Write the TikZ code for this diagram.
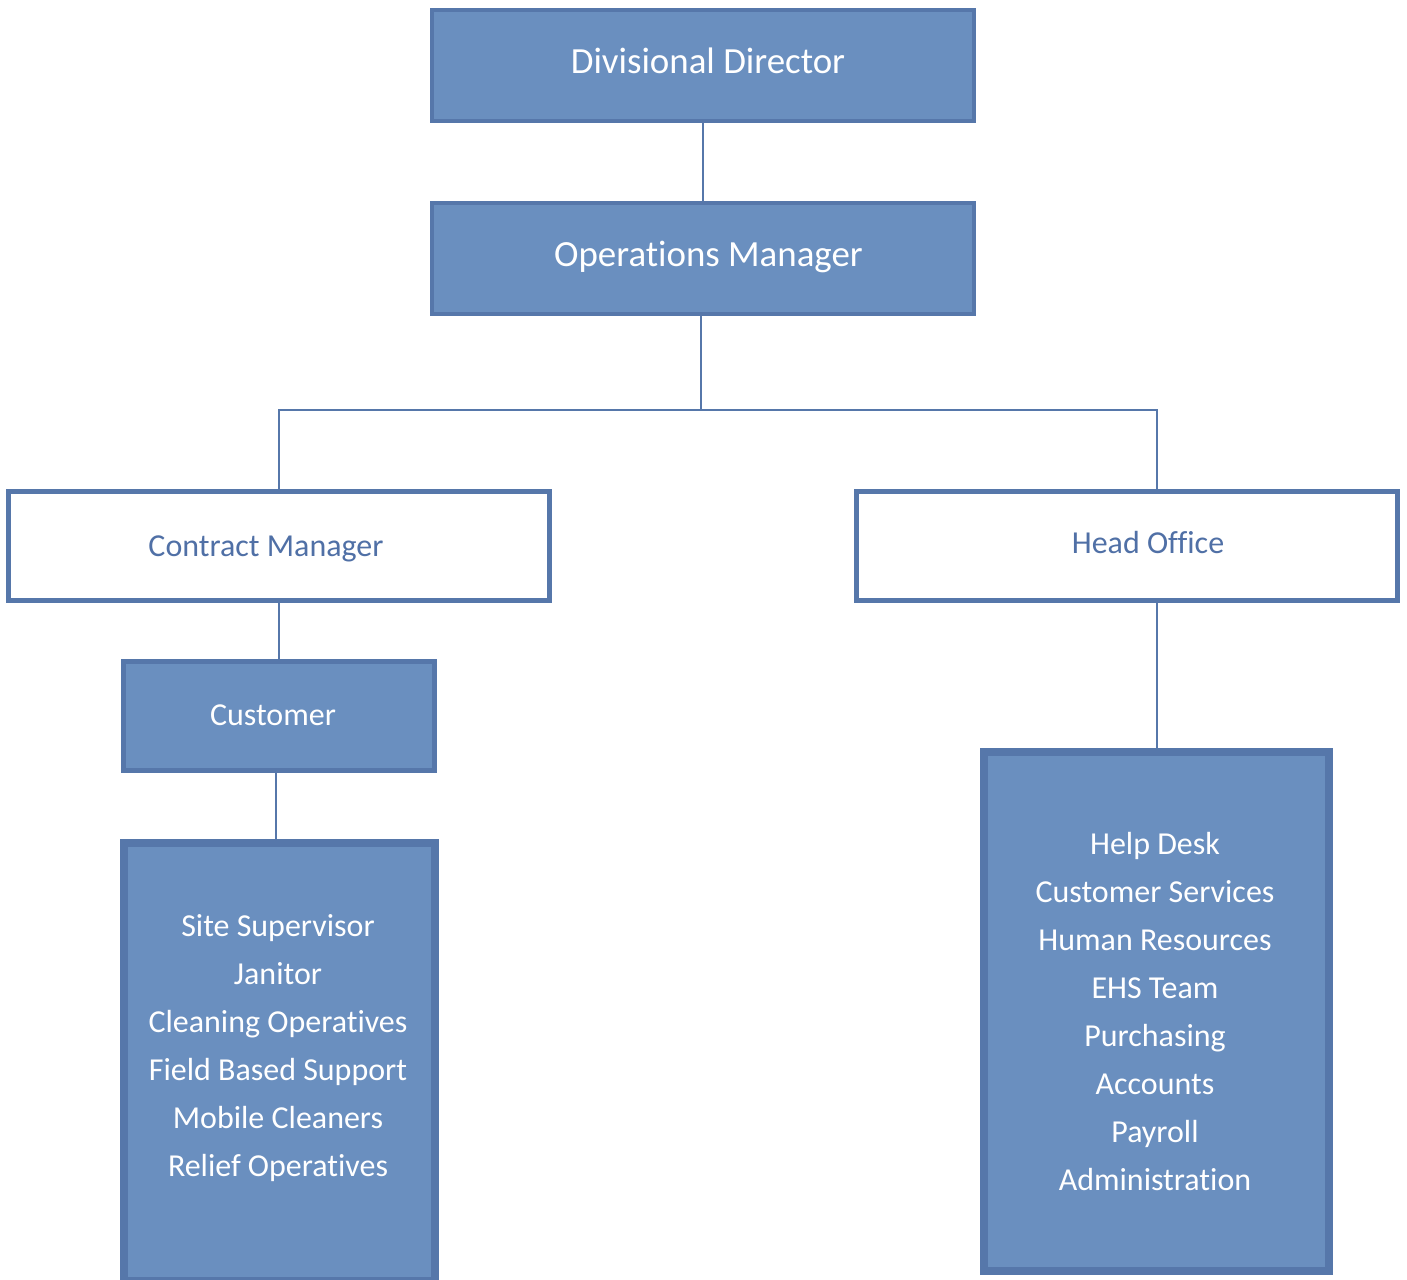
\documentclass[tikz,border=0pt]{standalone}
\usepackage{fontspec}
\setmainfont[Ligatures=NoCommon]{Carlito}
\definecolor{boxfill}{RGB}{106,143,191}
\definecolor{boxedge}{RGB}{86,119,170}
\definecolor{titleblue}{RGB}{80,112,166}
\begin{document}
\begin{tikzpicture}[x=0.02cm,y=-0.02cm,
  filledbox/.style={rectangle, draw=boxedge, fill=boxfill, inner sep=0pt, line width=#1},
  plainbox/.style={rectangle, draw=boxedge, fill=white, inner sep=0pt, line width=#1},
  bigtext/.style={anchor=base, text=white, font=\fontsize{21}{25}\selectfont},
  whitetext/.style={anchor=base, text=white, align=center, font=\fontsize{18.2}{27.3}\selectfont},
  bluetext/.style={anchor=base, text=titleblue, font=\fontsize{18.2}{27.3}\selectfont},
  link/.style={draw=boxedge, line width=1.14pt}]
\useasboundingbox (0,0) rectangle (1407,1280);

% top of the chart
\node[filledbox=2.28pt, minimum width=10.84cm, minimum height=2.22cm] (dd) at (703,65.5) {};
\node[filledbox=2.28pt, minimum width=10.84cm, minimum height=2.22cm] (om) at (703,258.5) {};
\node[bigtext] (ddText) at (708,74) {Divisional Director};
\node[bigtext] (omText) at (708.5,267) {Operations Manager};

% second level
\node[plainbox=2.85pt, minimum width=10.82cm, minimum height=2.18cm] (cm) at (279,546) {};
\node[plainbox=2.85pt, minimum width=10.82cm, minimum height=2.18cm] (ho) at (1127,546) {};
\node[bluetext] (cmText) at (266,557) {Contract Manager};
\node[bluetext] (hoText) at (1148,553) {Head Office};

% customer side (base anchor of a multi-line node sits on its last line)
\node[filledbox=2.85pt, minimum width=6.22cm, minimum height=2.18cm] (cust) at (279,716) {};
\node[whitetext] (custText) at (273,725) {Customer};
\node[filledbox=4.55pt, minimum width=6.22cm, minimum height=8.76cm] (site) at (279.5,1062) {};
\node[whitetext] (siteText) at (278,1176) {Site Supervisor\\Janitor\\Cleaning Operatives\\Field Based Support\\Mobile Cleaners\\Relief Operatives};

% head office side
\node[filledbox=4.55pt, minimum width=6.9cm, minimum height=10.38cm] (office) at (1156.5,1011.5) {};
\node[whitetext] (officeText) at (1155,1190) {Help Desk\\Customer Services\\Human Resources\\EHS Team\\Purchasing\\Accounts\\Payroll\\Administration};

% connectors
\coordinate (bus) at (701,410);
\draw[link] (dd.south) -- (om.south |- dd.south) -- (om.north);
\draw[link] ([xshift=-0.04cm]om.south) -- ([xshift=-0.04cm]om.south |- bus) -| (cm.north);
\draw[link] (bus) -| (office.north |- ho.north);
\draw[link] (cm.south) -- (cust.north);
\draw[link] ([xshift=-0.06cm]cust.south) -- ([xshift=-0.06cm]cust.south |- site.north);
\draw[link] (ho.south -| office.north) -- (office.north);
\end{tikzpicture}
\end{document}
